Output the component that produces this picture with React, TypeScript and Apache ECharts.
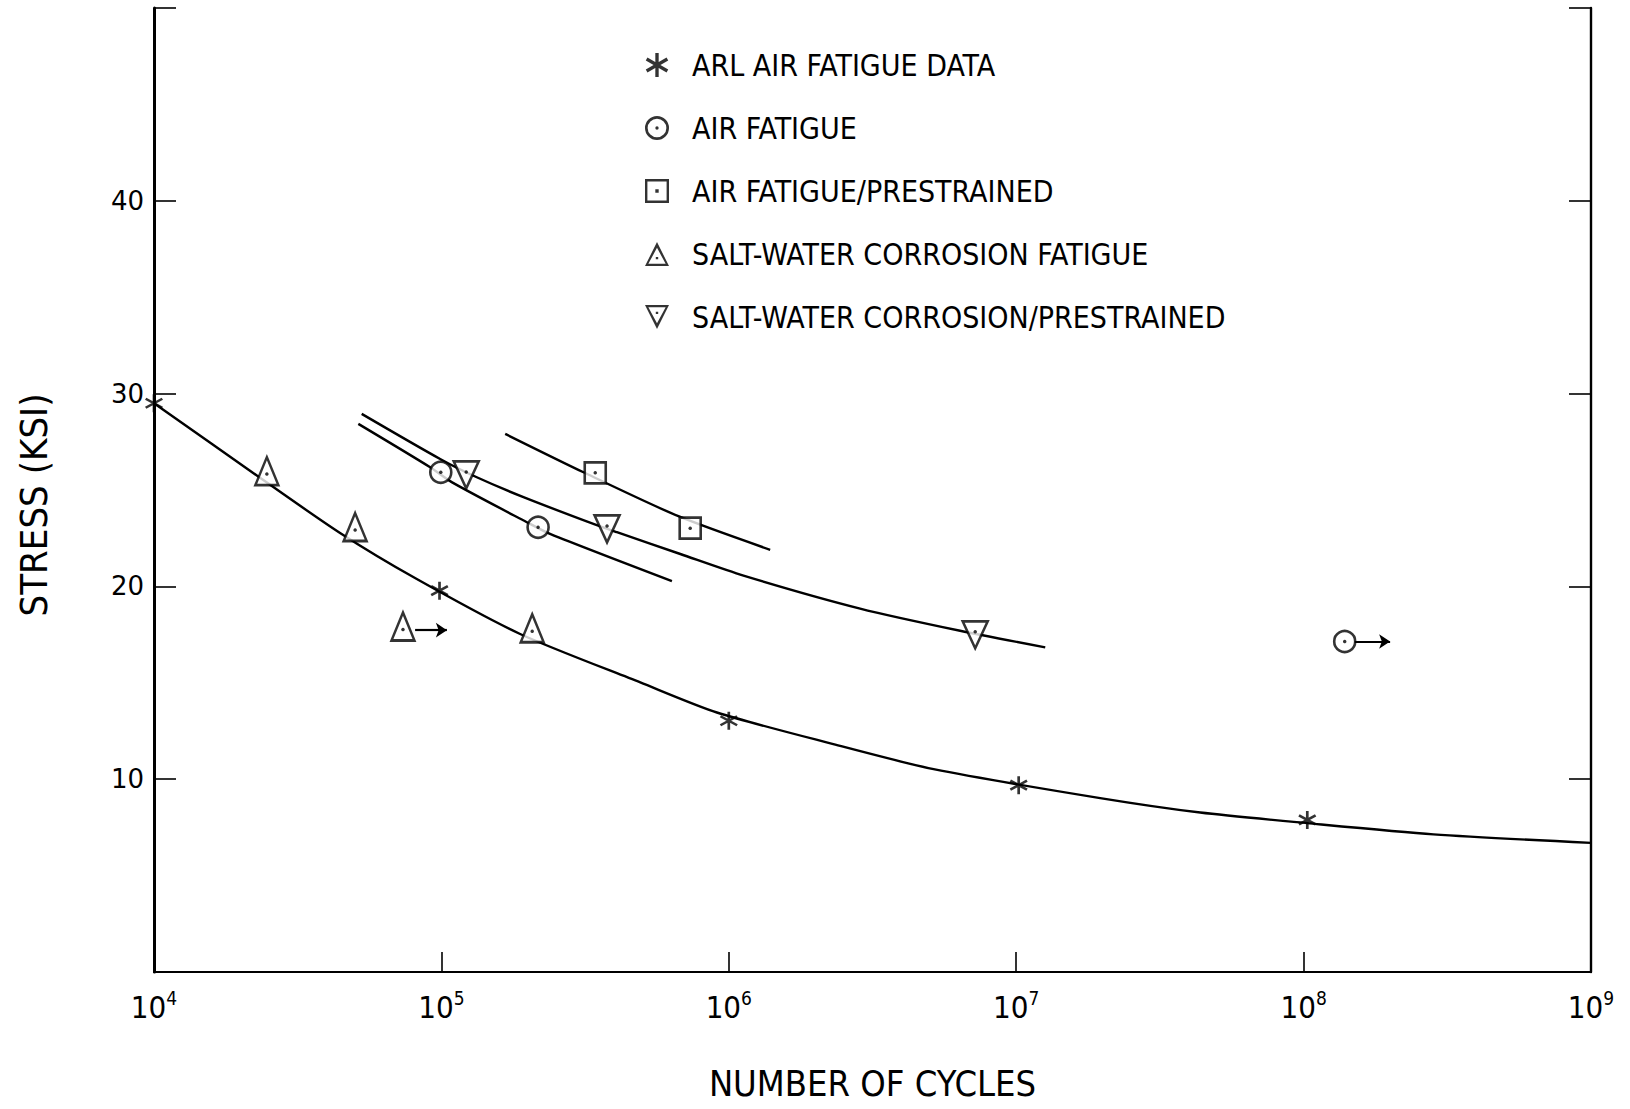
import React, { useEffect, useRef } from 'react';
import * as echarts from 'echarts';

const FONT = "'Liberation Sans Narrow', 'DejaVu Sans Condensed', 'DejaVu Sans', sans-serif";
const NUM_FONT = "'DejaVu Sans', sans-serif";

// Tick labels
const yTickLabels = [10, 20, 30, 40];

// Series names
const NAMES = [
  'ARL AIR FATIGUE DATA',
  'AIR FATIGUE',
  'AIR FATIGUE/PRESTRAINED',
  'SALT-WATER CORROSION FATIGUE',
  'SALT-WATER CORROSION/PRESTRAINED',
];

// Data points [cycles, stress ksi]
const arlAir = [[1e4, 29.5], [9.85e4, 19.78], [1e6, 13.03], [1.02e7, 9.69], [1.03e8, 7.89]];
const airFatigue = [[9.95e4, 25.92], [2.17e5, 23.07], [1.39e8, 17.14]];
const airPrestrained = [[3.43e5, 25.89], [7.34e5, 23.02]];
const saltFatigue = [[2.47e4, 25.98], [5.01e4, 23.08], [7.35e4, 17.92], [2.07e5, 17.83]];
const saltPrestrained = [[1.22e5, 25.78], [3.77e5, 22.98], [7.2e6, 17.49]];

// Fitted curves
const curveArl = [
  [1e4, 29.5], [2.28e4, 25.75], [4.44e4, 22.77], [8.21e4, 20.38], [1.879e5, 17.53],
  [4.92e5, 15.02], [9.09e5, 13.46], [2.31e6, 11.82], [5.16e6, 10.52], [1.96e7, 9.02],
  [4.37e7, 8.27], [1.03e8, 7.72], [2.83e8, 7.14], [1e9, 6.7],
];
const curveAir = [[5.14e4, 28.43], [9.14e4, 26.18], [1.086e5, 25.41], [1.983e5, 23.33], [2.388e5, 22.72], [6.34e5, 20.27]];
const curveSaltPre = [
  [5.28e4, 28.95], [9.9e4, 26.61], [1.328e5, 25.66], [1.93e5, 24.63], [3.38e5, 23.24], [4.08e5, 22.81],
  [6.78e5, 21.68], [1.125e6, 20.56], [2.864e6, 18.85], [6.38e6, 17.7], [1.262e7, 16.84],
];
const curveAirPre = [[1.667e5, 27.91], [3.122e5, 25.92], [6.68e5, 23.64], [1.393e6, 21.9]];

// Run-out arrows (start, end)
const runoutSalt = [[8.1e4, 17.73], [1.045e5, 17.73]];
const runoutAir = [[1.507e8, 17.14], [2.0e8, 17.14]];

const ASTERISK = 'path://M43,0 L57,0 L57,100 L43,100 Z M3.2,31.06 L10.2,18.94 L96.8,68.94 L89.8,81.06 Z M10.2,81.06 L3.2,68.94 L89.8,18.94 L96.8,31.06 Z';
const RING = 'path://M50,0 A50,50 0 1,1 50,100 A50,50 0 1,1 50,0 Z M50,11 A39,39 0 1,0 50,89 A39,39 0 1,0 50,11 Z M50,43 A7,7 0 1,1 50,57 A7,7 0 1,1 50,43 Z';
const SQUARE_ICON = 'path://M0,0 L100,0 L100,100 L0,100 Z M10,10 L10,90 L90,90 L90,10 Z M43,43 L57,43 L57,57 L43,57 Z';
const TRI_UP_ICON = 'path://M50,0 L100,100 L0,100 Z M50,24 L14,91 L86,91 Z M45,62 L55,62 L55,72 L45,72 Z';
const TRI_DOWN_ICON = 'path://M0,0 L100,0 L50,100 Z M14,9 L50,76 L86,9 Z M45,28 L55,28 L55,38 L45,38 Z';
const TRI_DOWN = 'path://M0,0 L100,0 L50,100 Z';

export default function App() {
  const ref = useRef<HTMLDivElement>(null);
  useEffect(() => {
    document.body.style.margin = '0';
    const chart = echarts.init(ref.current!, undefined, { renderer: 'svg' });
    const curve = (data: number[][]) => ({
      type: 'line',
      data,
      showSymbol: false,
      symbol: 'none',
      smooth: 0.25,
      silent: true,
      lineStyle: { color: '#000', width: 2.4 },
      z: 2,
    });
    const markerStyle = { color: '#fff', borderColor: '#000', borderWidth: 2.6 };
    const arrowLine = (seg: number[][]) => ({
      silent: true,
      symbol: ['none', 'arrow'],
      symbolSize: 11,
      label: { show: false },
      lineStyle: { color: '#000', width: 2.2, type: 'solid' },
      data: [[{ coord: seg[0] }, { coord: seg[1] }]],
    });
    const dots = [
      ...airFatigue.map((v) => ({ value: v })),
      ...airPrestrained.map((v) => ({ value: v })),
      ...saltFatigue.map((v) => ({ value: v, symbolOffset: [0, 3] })),
      ...saltPrestrained.map((v) => ({ value: v, symbolOffset: [0, -3] })),
    ];
    const iconStyle = { color: '#000', borderWidth: 0 };
    const option: any = {
      animation: false,
      backgroundColor: '#fff',
      grid: { left: 154, right: 39, top: 8, bottom: 137, show: false },
      legend: {
        orient: 'vertical',
        left: 640,
        top: 45,
        itemWidth: 24,
        itemHeight: 24,
        itemGap: 33,
        selectedMode: false,
        textStyle: { fontFamily: FONT, fontSize: 30, color: '#000', padding: [0, 0, 0, 18] },
        data: [
          { name: NAMES[0], icon: ASTERISK, itemStyle: iconStyle },
          { name: NAMES[1], icon: RING, itemStyle: iconStyle },
          { name: NAMES[2], icon: SQUARE_ICON, itemStyle: iconStyle },
          { name: NAMES[3], icon: TRI_UP_ICON, itemStyle: iconStyle },
          { name: NAMES[4], icon: TRI_DOWN_ICON, itemStyle: iconStyle },
        ],
      },
      xAxis: [
        {
          type: 'log',
          logBase: 10,
          min: 1e4,
          max: 1e9,
          position: 'bottom',
          axisLine: { show: true, lineStyle: { color: '#000', width: 2.2 } },
          axisTick: { show: true, inside: true, length: 20, lineStyle: { color: '#000', width: 1.6 } },
          splitLine: { show: false },
          minorTick: { show: false },
          axisLabel: {
            margin: 16,
            showMinLabel: true,
            showMaxLabel: true,
            formatter: (v: number) => `{b|10}{s|${Math.round(Math.log10(v))}}`,
            rich: {
              b: { fontFamily: FONT, fontSize: 31, color: '#000' },
              s: { fontFamily: FONT, fontSize: 19, color: '#000', padding: [0, 0, 18, 0] },
            },
          },
          name: 'NUMBER OF CYCLES',
          nameLocation: 'middle',
          nameGap: 93,
          nameTextStyle: { fontFamily: FONT, fontSize: 36, color: '#000' },
        },
        {
          type: 'log',
          logBase: 10,
          min: 1e4,
          max: 1e9,
          position: 'top',
          axisLine: { show: true, lineStyle: { color: '#000', width: 2 } },
          axisTick: { show: false },
          axisLabel: { show: false },
          splitLine: { show: false },
        },
      ],
      yAxis: [
        {
          type: 'value',
          min: 0,
          max: 50,
          interval: 10,
          position: 'left',
          axisLine: { show: true, lineStyle: { color: '#000', width: 3 } },
          axisTick: { show: true, inside: true, length: 22, lineStyle: { color: '#000', width: 1.6 } },
          splitLine: { show: false },
          axisLabel: {
            margin: 10,
            fontFamily: NUM_FONT,
            fontSize: 26,
            color: '#000',
            formatter: (v: number) => (yTickLabels.includes(v) ? String(v) : ''),
          },
          name: 'STRESS (KSI)',
          nameLocation: 'middle',
          nameRotate: 90,
          nameGap: 101,
          nameTextStyle: { fontFamily: FONT, fontSize: 38, color: '#000', padding: [0, 30, 0, 0] },
        },
        {
          type: 'value',
          min: 0,
          max: 50,
          interval: 10,
          position: 'right',
          axisLine: { show: true, lineStyle: { color: '#000', width: 2.4 } },
          axisTick: { show: true, inside: true, length: 22, lineStyle: { color: '#000', width: 1.6 } },
          axisLabel: { show: false },
          splitLine: { show: false },
        },
      ],
      series: [
        curve(curveArl),
        curve(curveAir),
        curve(curveSaltPre),
        curve(curveAirPre),
        {
          name: NAMES[0],
          type: 'scatter',
          data: arlAir,
          symbol: ASTERISK,
          symbolSize: 18,
          itemStyle: { color: '#000' },
          z: 3,
        },
        {
          name: NAMES[1],
          type: 'scatter',
          data: airFatigue,
          symbol: 'circle',
          symbolSize: 21,
          itemStyle: markerStyle,
          markLine: arrowLine(runoutAir),
          z: 3,
        },
        {
          name: NAMES[2],
          type: 'scatter',
          data: airPrestrained,
          symbol: 'rect',
          symbolSize: 21,
          itemStyle: markerStyle,
          z: 3,
        },
        {
          name: NAMES[3],
          type: 'scatter',
          data: saltFatigue,
          symbol: 'triangle',
          symbolSize: [23, 28],
          itemStyle: markerStyle,
          markLine: arrowLine(runoutSalt),
          z: 3,
        },
        {
          name: NAMES[4],
          type: 'scatter',
          data: saltPrestrained,
          symbol: TRI_DOWN,
          symbolSize: [25, 27],
          itemStyle: markerStyle,
          z: 3,
        },
        {
          type: 'scatter',
          data: dots,
          symbol: 'circle',
          symbolSize: 3.5,
          silent: true,
          itemStyle: { color: '#000' },
          z: 4,
        },
      ],
    };
    chart.setOption(option);
    return () => chart.dispose();
  }, []);
  return <div ref={ref} style={{ width: 1630, height: 1109 }} />;
}
